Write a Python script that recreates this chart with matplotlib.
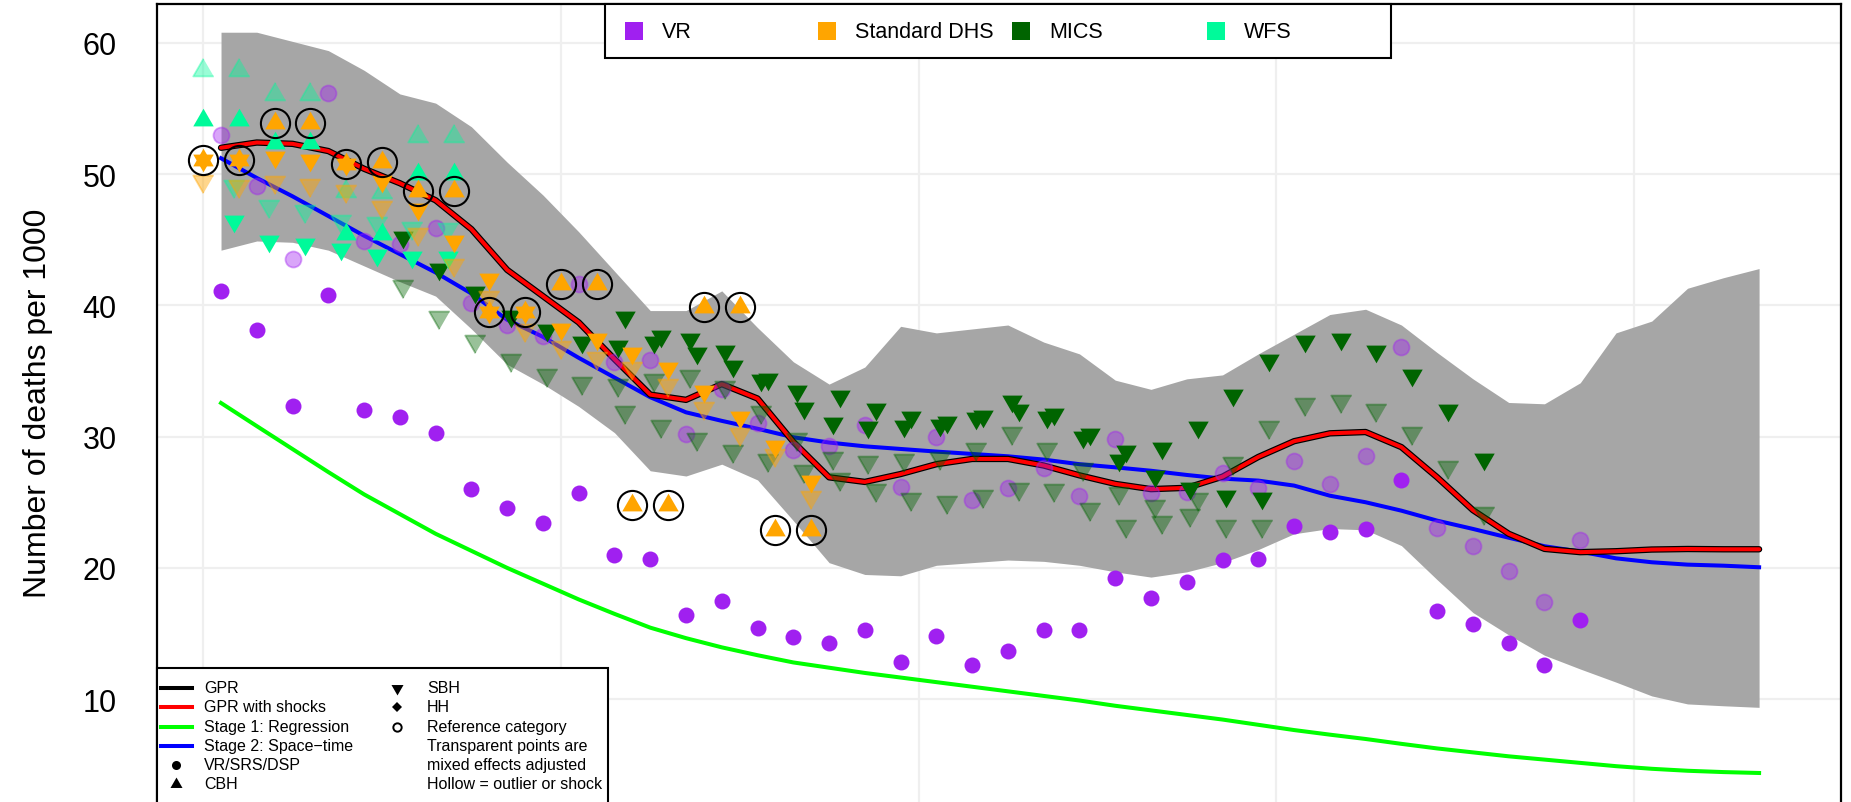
import matplotlib

matplotlib.use("Agg")
import matplotlib.pyplot as plt
from matplotlib.lines import Line2D
from matplotlib.patches import Rectangle

plt.rcParams["font.family"] = ["Liberation Sans", "DejaVu Sans"]

PURPLE = "#A020F0"
ORANGE = "#FFA500"
DKGREEN = "#006400"
WFS_COL = "#00FA9A"
BAND = "#A6A6A6"

# --- model estimates (mid-year) ---
est_years = [1970.5 + i for i in range(44)]
gpr = [52.0, 52.4, 52.3, 51.75, 50.4, 49.3, 48.0, 45.8, 42.7, 40.7,
       38.7, 35.9, 33.2, 32.8, 34.0, 32.9, 29.6, 26.9, 26.55, 27.15,
       27.9, 28.3, 28.3, 27.8, 27.05, 26.4, 26.0, 26.1, 26.95, 28.45,
       29.65, 30.25, 30.35, 29.2, 26.9, 24.4, 22.6, 21.45, 21.2, 21.27,
       21.4, 21.44, 21.42, 21.42]
stage2 = [51.2, 49.7, 48.3, 46.8, 45.3, 43.9, 42.5, 40.9, 38.9, 37.6,
          36.0, 34.5, 33.0, 31.85, 31.2, 30.6, 29.95, 29.55, 29.26, 29.06,
          28.86, 28.68, 28.5, 28.25, 27.9, 27.66, 27.4, 27.08, 26.8, 26.65,
          26.27, 25.5, 25.0, 24.36, 23.6, 22.97, 22.3, 21.65, 21.24, 20.73,
          20.43, 20.25, 20.17, 20.05]
stage1 = [32.56, 30.8, 29.05, 27.3, 25.6, 24.1, 22.6, 21.3, 20.0, 18.8,
          17.6, 16.5, 15.45, 14.65, 13.95, 13.35, 12.8, 12.4, 12.0, 11.65,
          11.3, 10.95, 10.6, 10.25, 9.9, 9.5, 9.15, 8.8, 8.45, 8.05,
          7.65, 7.3, 6.97, 6.6, 6.25, 5.95, 5.65, 5.4, 5.15, 4.9,
          4.7, 4.55, 4.45, 4.38]
band_hi = [60.8, 60.8, 60.1, 59.4, 57.9, 56.1, 55.4, 53.6, 50.9, 48.4,
           45.6, 42.6, 39.6, 39.6, 41.1, 38.3, 35.7, 34.0, 35.3, 38.4,
           37.9, 38.2, 38.5, 37.2, 36.3, 34.3, 33.6, 34.4, 34.7, 36.3,
           37.8, 39.3, 39.7, 38.5, 36.4, 34.4, 32.6, 32.5, 34.1, 37.9,
           38.8, 41.3, 42.1, 42.8]
band_lo = [44.2, 44.9, 44.8, 44.2, 43.0, 41.8, 40.7, 38.2, 35.5, 34.0,
           32.3, 30.3, 27.4, 27.0, 27.9, 26.7, 23.6, 20.4, 19.5, 19.4,
           20.2, 20.4, 20.6, 20.5, 20.2, 19.7, 19.3, 19.7, 20.4, 21.4,
           22.6, 23.0, 22.9, 21.7, 19.1, 16.6, 14.9, 13.35, 12.3, 11.3,
           10.25, 9.64, 9.5, 9.38]

# --- VR data ---
vr_years = [1970.5 + i for i in range(39)]
vr_raw = [41.1, 38.1, 32.3, 40.8, 32.0, 31.5, 30.3, 26.0, 24.6, 23.4,
          25.7, 21.0, 20.7, 16.4, 17.5, 15.4, 14.7, 14.3, 15.3, 12.8,
          14.8, 12.6, 13.7, 15.3, 15.3, 19.2, 17.7, 18.95, 20.6, 20.7,
          23.2, 22.7, 22.97, 26.7, 16.7, 15.7, 14.3, 12.6, 16.0]
vr_adj = [53.0, 49.1, 43.5, 56.2, 44.9, 44.7, 45.9, 40.2, 38.5, 37.7,
          41.6, 35.7, 35.8, 30.2, 33.6, 31.0, 29.0, 29.25, 30.9, 26.2,
          30.0, 25.2, 26.1, 27.6, 25.5, 29.8, 25.7, 25.8, 27.2, 26.06,
          28.17, 26.4, 28.55, 36.85, 23.04, 21.65, 19.77, 17.4, 22.1]

# --- Standard DHS ---
dhs_cbh_years = list(range(1970, 1988))
dhs_cbh = [51.1, 51.1, 53.9, 53.9, 50.8, 50.9, 48.7, 48.7, 39.5, 39.5,
           41.6, 41.6, 24.8, 24.8, 39.85, 39.85, 22.9, 22.9]
dhs_sbh_ring_years = [1970, 1971, 1974, 1978, 1979]
dhs_sbh_ring = [51.1, 51.1, 50.8, 39.5, 39.5]
dhs_sbh_years = [1972, 1973, 1975, 1976, 1977, 1978, 1980, 1981, 1982,
                 1983, 1984, 1985, 1986, 1987]
dhs_sbh = [51.3, 51.1, 49.5, 47.3, 44.9, 42.0, 38.2, 37.4, 36.4,
           35.2, 33.5, 31.5, 29.3, 26.65]
dhs_adj_years = list(range(1970, 1988))
dhs_sbh_adj = [49.5, 49.1, 49.4, 49.2, 48.7, 47.5, 45.4, 43.1, 40.6, 38.1,
               36.8, 36.0, 35.2, 33.9, 32.2, 30.2, 28.6, 25.4]

# --- MICS (two survey series) ---
mics_a_years = [1975.6 + i for i in range(25)]
mics_a = [45.2, 42.8, 41.0, 39.2, 38.1, 37.2, 36.9, 37.2, 37.4, 36.5,
          34.3, 33.5, 31.0, 30.7, 30.8, 30.9, 31.4, 32.7, 31.5, 29.95,
          28.2, 27.0, 26.1, 25.5, 25.3]
mics_a_adj = [41.5, 39.1, 37.3, 35.8, 34.7, 34.1, 33.9, 34.3, 34.6, 33.8,
              31.9, 29.8, 28.4, 28.1, 28.2, 28.4, 29.06, 30.3, 29.06, 27.5,
              25.7, 24.7, 24.0, 23.2, 23.2]
mics_b_years = [1981.8 + i for i in range(25)]
mics_b = [39.1, 37.7, 36.4, 35.4, 34.4, 32.2, 33.1, 32.1, 31.5, 31.1,
          31.6, 32.0, 31.7, 30.2, 28.9, 29.1, 30.7, 33.2, 35.8, 37.3,
          37.4, 36.5, 34.7, 32.0, 28.3]
mics_b_adj = [31.9, 30.8, 29.8, 28.9, 28.2, 27.4, 26.8, 25.9, 25.25, 25.0,
              25.5, 26.0, 25.9, 24.5, 23.2, 23.5, 25.25, 28.0, 30.7, 32.5,
              32.7, 32.0, 30.3, 27.7, 24.2]

# --- WFS ---
wfs_cbh_years = list(range(1970, 1978))
wfs_cbh = [54.1, 54.1, 52.4, 52.4, 45.4, 45.4, 50.0, 50.0]
wfs_cbh_adj = [57.9, 57.9, 56.1, 56.1, 48.7, 48.6, 52.9, 52.9]
wfs_sbh_years = [1970.85, 1971.85, 1972.85, 1973.85, 1974.85, 1975.85, 1976.85]
wfs_sbh = [46.4, 44.9, 44.7, 44.3, 43.8, 43.7, 43.7]
wfs_sbh_adj = [49.1, 47.6, 47.2, 46.4, 46.3, 45.9, 45.8]

source_labels = ["VR", "Standard DHS", "MICS", "WFS"]
source_colors = [PURPLE, ORANGE, DKGREEN, WFS_COL]

TRI_UP = [(0, 1), (-0.866, -0.5), (0.866, -0.5)]
TRI_DN = [(0, -1), (-0.866, 0.5), (0.866, 0.5)]

W, H = 1851, 803
fig = plt.figure(figsize=(W / 100, H / 100), dpi=100)
ax = fig.add_axes([157 / W, 1 - 831.5 / H, 1684 / W, 826.5 / H])
ax.set_xlim(1968.71, 2015.79)
ax.set_ylim(0, 62.95)
ax.set_xticks(range(1970, 2011, 10))
ax.set_yticks(range(10, 61, 10))
ax.grid(color="#EFEFEF", lw=1.6)
ax.set_axisbelow(True)
ax.tick_params(length=0, labelsize=22, pad=29, labelbottom=False)
for s in ax.spines.values():
    s.set_linewidth(1.6)

ax.fill_between(est_years, band_lo, band_hi, color=BAND, lw=0, zorder=1)
ax.plot(est_years, stage1, color="#00FF00", lw=2.9, zorder=2)
ax.plot(est_years, stage2, color="#0000FF", lw=2.9, zorder=2)
ax.plot(est_years, gpr, color="black", lw=4.6, solid_capstyle="round", zorder=2)
ax.plot(est_years, gpr, color="#FF0000", lw=2.9, solid_capstyle="round", zorder=2)


def pts(x, y, marker, color, ms, alpha=1.0):
    ax.plot(x, y, ls="none", marker=marker, ms=ms, mfc=color, mec=color,
            mew=1.3 if alpha < 1 else 0, alpha=alpha, zorder=4)


pts(vr_years, vr_adj, "o", PURPLE, 11.5, 0.4)
pts(vr_years, vr_raw, "o", PURPLE, 11.5)
pts(mics_a_years, mics_a_adj, TRI_DN, DKGREEN, 17, 0.4)
pts(mics_b_years, mics_b_adj, TRI_DN, DKGREEN, 17, 0.4)
pts(mics_a_years, mics_a, TRI_DN, DKGREEN, 17)
pts(mics_b_years, mics_b, TRI_DN, DKGREEN, 17)
pts(wfs_cbh_years, wfs_cbh_adj, TRI_UP, WFS_COL, 17, 0.4)
pts(wfs_sbh_years, wfs_sbh_adj, TRI_DN, WFS_COL, 17, 0.4)
pts(wfs_cbh_years, wfs_cbh, TRI_UP, WFS_COL, 17)
pts(wfs_sbh_years, wfs_sbh, TRI_DN, WFS_COL, 17)
pts(dhs_adj_years, dhs_sbh_adj, TRI_DN, ORANGE, 17, 0.45)
pts(dhs_sbh_years, dhs_sbh, TRI_DN, ORANGE, 17)
pts(dhs_sbh_ring_years, dhs_sbh_ring, TRI_DN, ORANGE, 17)
pts(dhs_cbh_years, dhs_cbh, TRI_UP, ORANGE, 17)
ax.plot(dhs_cbh_years, dhs_cbh, ls="none", marker="o", ms=21, mfc="none",
        mec="black", mew=1.5, zorder=5)

fig.text(38 / W, 1 - 403 / H, "Number of deaths per 1000", rotation=90,
         ha="center", va="center", fontsize=23)


def fx(px):
    return px / W


def fy(py):
    return 1 - py / H


# top legend (sources)
fig.add_artist(Rectangle((fx(605), fy(59)), 786 / W, 54 / H, fc="white",
                         ec="black", lw=1.5, transform=fig.transFigure, zorder=5))
for lab, col, sx, tx in zip(source_labels, source_colors,
                            [634, 827, 1021, 1216], [662, 855, 1049, 1244]):
    fig.add_artist(Line2D([fx(sx)], [fy(32)], marker="s", ms=13, mfc=col,
                          mec=col, mew=0, transform=fig.transFigure, zorder=6))
    fig.text(fx(tx), fy(32), lab, ha="left", va="center", fontsize=15.5, zorder=6)

# bottom-left legend (lines and symbols)
fig.add_artist(Rectangle((fx(157), fy(860)), 451 / W, 191 / H, fc="white",
                         ec="black", lw=1.5, transform=fig.transFigure, zorder=5))
rows = [689, 708, 728, 747, 766, 785]
line_items = [("GPR", "black"), ("GPR with shocks", "#FF0000"),
              ("Stage 1: Regression", "#00FF00"),
              ("Stage 2: Space\u2212time", "#0000FF")]
for (lab, col), ry in zip(line_items, rows):
    fig.add_artist(Line2D([fx(161), fx(192)], [fy(ry), fy(ry)], color=col,
                          lw=2.9, transform=fig.transFigure, zorder=6))
    fig.text(fx(204), fy(ry), lab, ha="left", va="center", fontsize=11.5, zorder=6)
sym_items = [(rows[4], 176, "o", 6.5, "black", "VR/SRS/DSP", 204),
             (rows[5], 176, TRI_UP, 10, "black", "CBH", 204),
             (rows[0], 397, TRI_DN, 10, "black", "SBH", 427),
             (rows[1], 397, "D", 5.5, "black", "HH", 427),
             (rows[2], 397, "o", 6, "none", "Reference category", 427)]
for ry, sx, mk, ms, fcol, lab, tx in sym_items:
    fig.add_artist(Line2D([fx(sx)], [fy(ry)], marker=mk, ms=ms, mfc=fcol,
                          mec="black", mew=1.4 if fcol == "none" else 0,
                          transform=fig.transFigure, zorder=6))
    fig.text(fx(tx), fy(ry), lab, ha="left", va="center", fontsize=11.5, zorder=6)
for ry, lab in zip(rows[3:], ["Transparent points are", "mixed effects adjusted",
                              "Hollow = outlier or shock"]):
    fig.text(fx(427), fy(ry), lab, ha="left", va="center", fontsize=11.5, zorder=6)

fig.savefig("out.png", dpi=100)
